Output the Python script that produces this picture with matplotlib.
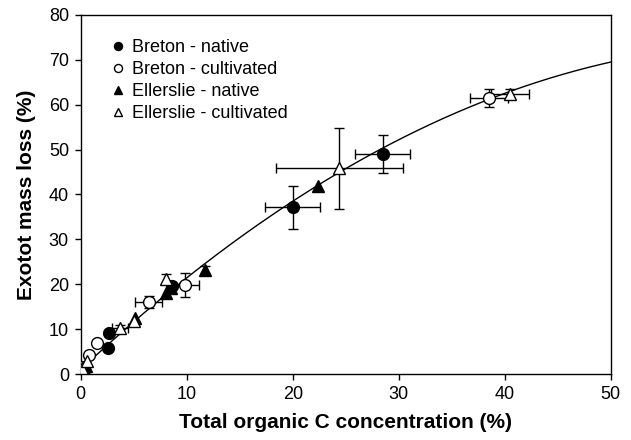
import numpy as np
import matplotlib
matplotlib.use("Agg")
import matplotlib.pyplot as plt

plt.rcParams['font.family'] = ['Liberation Sans', 'DejaVu Sans']

# Breton - native (filled circles)
bn_x = [0.3, 2.6, 2.7, 8.6, 20.0, 28.5]
bn_y = [1.0, 5.8, 9.1, 19.5, 37.1, 49.0]
bn_xerr = [0, 0, 0, 0, 2.6, 2.6]
bn_yerr = [0, 0, 0, 0, 4.9, 4.2]

# Breton - cultivated (open circles)
bc_x = [0.1, 0.8, 1.5, 6.4, 9.8, 38.5]
bc_y = [1.5, 4.2, 6.8, 16.1, 19.8, 61.5]
bc_xerr = [0, 0, 0, 1.3, 1.4, 1.8]
bc_yerr = [0, 0, 0, 1.3, 2.7, 2.0]

# Ellerslie - native (filled triangles)
en_x = [0.5, 5.1, 8.0, 8.5, 11.7, 22.4]
en_y = [1.8, 12.4, 18.0, 19.2, 23.2, 41.9]
en_xerr = [0, 0, 0, 0, 0, 0]
en_yerr = [0, 0, 0, 0, 0.8, 0]

# Ellerslie - cultivated (open triangles)
ec_x = [0.1, 0.6, 3.7, 5.0, 8.0, 24.4, 40.5]
ec_y = [1.3, 2.9, 10.2, 11.8, 21.2, 45.8, 62.5]
ec_xerr = [0, 0, 0.8, 0, 0, 6.0, 1.8]
ec_yerr = [0, 0, 0.8, 0, 1.0, 9.0, 1.0]

# fitted curve coefficients (y = c0 + c1*x + c2*x^2)
fit_c0, fit_c1, fit_c2 = 1.0, 2.2117, -0.01683

fig = plt.figure(figsize=(6.31, 4.40), dpi=100)
ax = fig.add_axes([0.128, 0.150, 0.840, 0.816])

xs = np.linspace(0, 50, 200)
ax.plot(xs, fit_c0 + fit_c1 * xs + fit_c2 * xs ** 2, color='black', lw=1.0, zorder=2)

series = [
    (bn_x, bn_y, bn_xerr, bn_yerr, 'o', 'black', 'Breton - native'),
    (bc_x, bc_y, bc_xerr, bc_yerr, 'o', 'white', 'Breton - cultivated'),
    (en_x, en_y, en_xerr, en_yerr, '^', 'black', 'Ellerslie - native'),
    (ec_x, ec_y, ec_xerr, ec_yerr, '^', 'white', 'Ellerslie - cultivated'),
]

for x, y, xe, ye, mk, fc, label in series:
    x = np.array(x); y = np.array(y); xe = np.array(xe); ye = np.array(ye)
    mx = xe > 0
    if mx.any():
        ax.errorbar(x[mx], y[mx], xerr=xe[mx], fmt='none', ecolor='black',
                    elinewidth=1.0, capsize=3.8, capthick=1.0, zorder=3)
    my = ye > 0
    if my.any():
        ax.errorbar(x[my], y[my], yerr=ye[my], fmt='none', ecolor='black',
                    elinewidth=1.0, capsize=3.8, capthick=1.0, zorder=3)
    ax.plot(x, y, linestyle='none', marker=mk, markersize=8.5,
            markerfacecolor=fc, markeredgecolor='black', markeredgewidth=1.0,
            label=label, zorder=4)

ax.set_xlim(0, 50)
ax.set_ylim(0, 80)
ax.set_xticks(range(0, 51, 10))
ax.set_yticks(range(0, 81, 10))
ax.tick_params(direction='out', length=4.5, width=1, pad=4, labelsize=13,
               top=False, right=False)
for s in ax.spines.values():
    s.set_linewidth(1.0)

ax.set_xlabel('Total organic C concentration (%)', fontsize=15, fontweight='bold',
              labelpad=7)
ax.set_ylabel('Exotot mass loss (%)', fontsize=15, fontweight='bold', labelpad=9)

ax.legend(loc='upper left', bbox_to_anchor=(0.053, 0.932), frameon=False,
          fontsize=13, markerscale=0.68, handletextpad=0.28, labelspacing=0.27,
          borderpad=0, borderaxespad=0, handlelength=1.0)

fig.savefig('out.png', dpi=100)
